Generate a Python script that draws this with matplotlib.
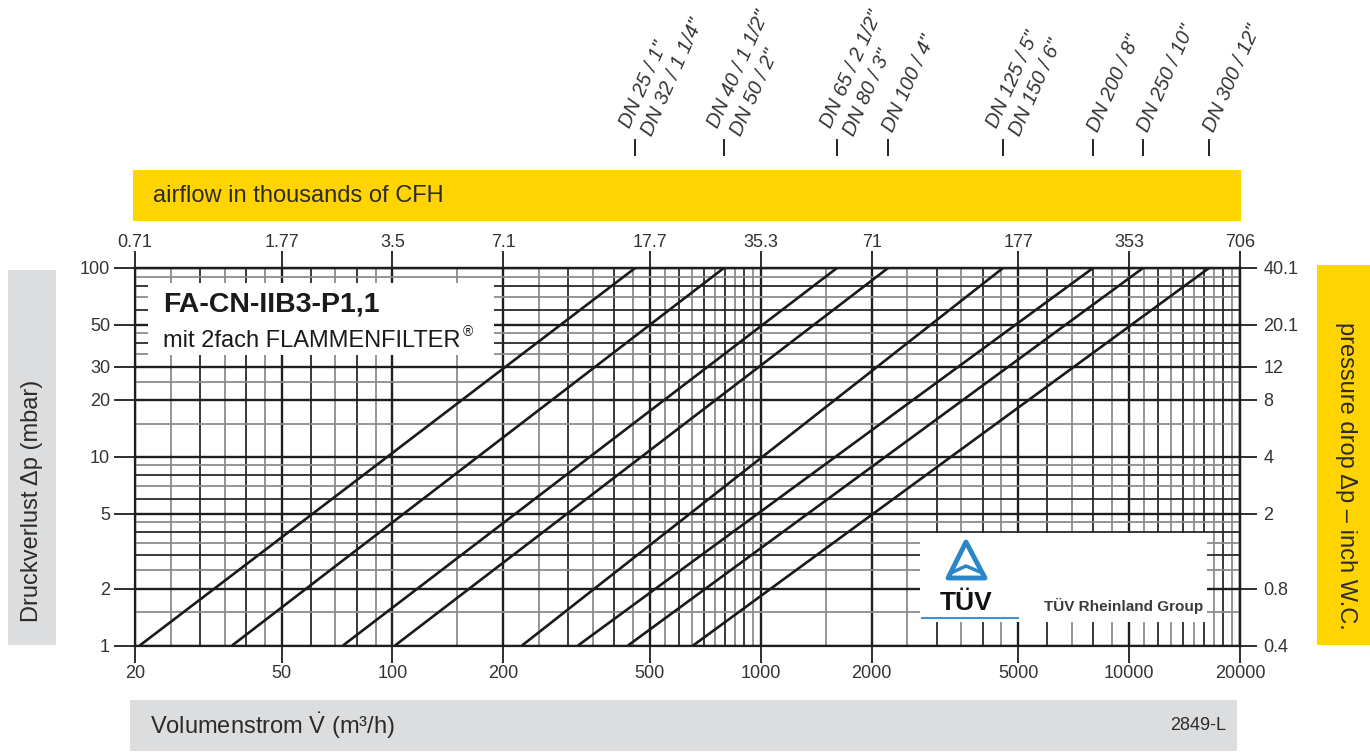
import matplotlib
matplotlib.use("Agg")
import matplotlib.pyplot as plt
import matplotlib.transforms as mtransforms
from matplotlib.patches import Rectangle, Polygon
from matplotlib.lines import Line2D
from matplotlib.ticker import NullLocator

plt.rcParams['font.family'] = ['Liberation Sans', 'DejaVu Sans']
plt.rcParams['mathtext.fontset'] = 'custom'
plt.rcParams['mathtext.rm'] = 'Liberation Sans'

W, H = 1370, 753

# flow (m3/h) where each curve crosses 1 mbar and 100 mbar
flow_at_1mbar = [20.6, 36.7, 73.4, 101.6, 224.8, 319, 436, 655]
flow_at_100mbar = [456, 794, 1610, 2216, 4546, 7981, 10908, 16480]
dn_labels = [
    ['DN 25 / 1"', 'DN 32 / 1 1/4"'],
    ['DN 40 / 1 1/2"', 'DN 50 / 2"'],
    ['DN 65 / 2 1/2"', 'DN 80 / 3"'],
    ['DN 100 / 4"'],
    ['DN 125 / 5"', 'DN 150 / 6"'],
    ['DN 200 / 8"'],
    ['DN 250 / 10"'],
    ['DN 300 / 12"'],
]

x_ticks = [20, 50, 100, 200, 500, 1000, 2000, 5000, 10000, 20000]
x_ticklabels = ['20', '50', '100', '200', '500', '1000', '2000', '5000', '10000', '20000']
cfh_ticklabels = ['0.71', '1.77', '3.5', '7.1', '17.7', '35.3', '71', '177', '353', '706']
y_ticks = [1, 2, 5, 10, 20, 30, 50, 100]
y_ticklabels = ['1', '2', '5', '10', '20', '30', '50', '100']
inch_ticklabels = ['0.4', '0.8', '2', '4', '8', '12', '20.1', '40.1']

# grid of the printed chart paper
x_grid = ([20, 25, 30, 35, 40, 45, 50, 60, 70, 80, 90]
          + list(range(100, 1000, 50))
          + list(range(1000, 5000, 500))
          + list(range(5000, 20001, 1000)))
x_grid_gray = ([25, 35, 45, 70, 90] + list(range(150, 1000, 100))
               + list(range(1500, 5000, 1000)) + list(range(7000, 20000, 2000)))
y_grid = []
for dec in [1, 10]:
    y_grid += [dec * v for v in [1, 1.5, 2, 2.5, 3, 3.5, 4, 4.5, 5, 6, 7, 8, 9]]
y_grid.append(100)
y_grid_gray = [1.5, 2.5, 3.5, 4.5, 7, 9, 15, 25, 35, 45, 70, 90]

YELLOW = '#FFD400'
GRAY = '#DCDDDF'
TXT = '#2b2b2b'


def fx(px):
    return px / W


def fy(py):
    return 1 - py / H


fig = plt.figure(figsize=(W / 100, H / 100), dpi=100)
ax = fig.add_axes([fx(135), fy(645.5), (1240 - 135) / W, (645.5 - 268) / H])
ax.set_xscale('log')
ax.set_yscale('log')
ax.set_xlim(20, 20000)
ax.set_ylim(1, 100)

for xv in x_grid:
    if xv in x_ticks:
        ax.axvline(xv, color='#1e1e1e', lw=1.7, zorder=1)
    elif xv in x_grid_gray:
        ax.axvline(xv, color='#8c8c8c', lw=1.3, zorder=1)
    else:
        ax.axvline(xv, color='#2a2a2a', lw=1.3, zorder=1)
for yv in y_grid:
    if yv in y_ticks:
        ax.axhline(yv, color='#1e1e1e', lw=1.7, zorder=1)
    elif yv in y_grid_gray:
        ax.axhline(yv, color='#8c8c8c', lw=1.3, zorder=1)
    else:
        ax.axhline(yv, color='#2a2a2a', lw=1.3, zorder=1)

# pressure drop curves
for f1, f100 in zip(flow_at_1mbar, flow_at_100mbar):
    ax.plot([f1, f100], [1, 100], color='#1a1a1a', lw=1.9, zorder=3,
            solid_capstyle='butt')

for sp in ax.spines.values():
    sp.set_color('#1e1e1e')
    sp.set_linewidth(1.6)

ax.set_xticks(x_ticks)
ax.set_xticklabels(x_ticklabels)
ax.set_yticks(y_ticks)
ax.set_yticklabels(y_ticklabels)
ax.xaxis.set_minor_locator(NullLocator())
ax.yaxis.set_minor_locator(NullLocator())
ax.tick_params(axis='x', direction='out', length=12, width=1.3, labelsize=13,
               pad=2, colors='#1e1e1e', labelcolor='#333333')
ax.tick_params(axis='y', direction='out', length=15, width=1.3, labelsize=13,
               pad=3, colors='#1e1e1e', labelcolor='#333333')

top = ax.secondary_xaxis('top')
top.set_xticks(x_ticks)
top.set_xticklabels(cfh_ticklabels)
top.xaxis.set_minor_locator(NullLocator())
top.tick_params(direction='out', length=12, width=1.3, labelsize=13, pad=0,
                colors='#1e1e1e', labelcolor='#333333')
top.spines['top'].set_linewidth(1.6)

right = ax.secondary_yaxis('right')
right.set_yticks(y_ticks)
right.set_yticklabels(inch_ticklabels)
right.yaxis.set_minor_locator(NullLocator())
right.tick_params(direction='out', length=12, width=1.3, labelsize=13, pad=5,
                  colors='#1e1e1e', labelcolor='#333333')
right.spines['right'].set_linewidth(1.6)

# white boxes inside the plot
tr_px = mtransforms.Affine2D().scale(1 / W, -1 / H).translate(0, 1) + fig.transFigure
ax.add_patch(Rectangle((148, 283), 346, 72, transform=tr_px, facecolor='white',
                       edgecolor='none', zorder=5))
fig.text(fx(163), fy(304), 'FA-CN-IIB3-P1,1', fontsize=20.5, fontweight='bold',
         color='#1a1a1a', va='center', ha='left')
fig.text(fx(163), fy(341), 'mit 2fach FLAMMENFILTER', fontsize=17,
         color='#1a1a1a', va='center', ha='left')
fig.text(fx(463), fy(332), '\u00ae', fontsize=10, color='#1a1a1a',
         va='center', ha='left')

ax.add_patch(Rectangle((920, 533), 287, 89, transform=tr_px, facecolor='white',
                       edgecolor='none', zorder=5))
ax.add_patch(Polygon([(966, 542), (948, 578), (985, 578)], closed=True,
                     transform=tr_px, facecolor='none', edgecolor='#2a86c8',
                     lw=3.5, joinstyle='round', zorder=6))
ax.add_line(Line2D([953, 966, 980], [572, 566, 572], transform=tr_px,
                   color='#2a86c8', lw=2.5, zorder=6))
fig.text(fx(966), fy(603), 'TÜV', fontsize=19, fontweight='bold', color='#111111',
         ha='center', va='center')
ax.add_line(Line2D([922, 1018], [618, 618], transform=tr_px, color='#4a90c8',
                   lw=1.5, zorder=6))
fig.text(fx(1124), fy(606), 'TÜV Rheinland Group', fontsize=11, fontweight='bold',
         color='#3a3a3a', ha='center', va='center')

# bands around the chart
fig.patches.append(Rectangle((133, 170), 1108, 51, transform=tr_px,
                             facecolor=YELLOW, edgecolor='none'))
fig.text(fx(153), fy(196), 'airflow in thousands of CFH', fontsize=17,
         color=TXT, va='center', ha='left')

fig.patches.append(Rectangle((8, 270), 48, 375, transform=tr_px,
                             facecolor=GRAY, edgecolor='none'))
fig.text(fx(32), fy(501), 'Druckverlust \u0394p (mbar)', fontsize=17,
         color=TXT, rotation=90, va='center', ha='center')

fig.patches.append(Rectangle((1317, 265), 60, 380, transform=tr_px,
                             facecolor=YELLOW, edgecolor='none'))
fig.text(fx(1346), fy(476), 'pressure drop \u0394p \u2013 inch W.C.', fontsize=17,
         color=TXT, rotation=-90, va='center', ha='center')

fig.patches.append(Rectangle((130, 700), 1107, 51, transform=tr_px,
                             facecolor=GRAY, edgecolor='none'))
fig.text(fx(150), fy(726), r'Volumenstrom $\dot{\mathrm{V}}$ (m³/h)', fontsize=17,
         color=TXT, va='center', ha='left')
fig.text(fx(1226), fy(726), '2849-L', fontsize=13, color=TXT, va='center',
         ha='right')

# nominal size markers above the band, at the 100 mbar end of each curve
tr_dn = mtransforms.blended_transform_factory(ax.transData, fig.transFigure)
for xv, labels in zip(flow_at_100mbar, dn_labels):
    fig.add_artist(Line2D([xv, xv], [fy(140), fy(155)], transform=tr_dn,
                          color='#222222', lw=1.4))
    if len(labels) == 2:
        aligns = [('bottom', -2), ('top', 3)]
    else:
        aligns = [('center', 0)]
    for lab, (va, dx) in zip(labels, aligns):
        tr = mtransforms.offset_copy(tr_dn, fig=fig, x=dx, y=0, units='dots')
        fig.text(xv, fy(131), lab, transform=tr, rotation=66,
                 rotation_mode='anchor', ha='left', va=va, fontsize=14.5,
                 style='italic', color='#333333')

fig.savefig('out.png', dpi=100)
